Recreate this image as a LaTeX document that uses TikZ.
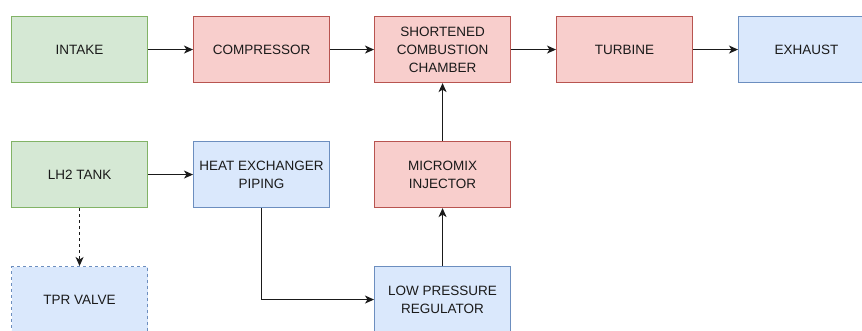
\documentclass[tikz,border=0pt]{standalone}
\usepackage{fontspec}
\setmainfont{Liberation Sans}
\usetikzlibrary{arrows.meta}
\definecolor{gfill}{HTML}{D5E8D4}
\definecolor{gline}{HTML}{82B366}
\definecolor{rfill}{HTML}{F8CECC}
\definecolor{rline}{HTML}{B85450}
\definecolor{bfill}{HTML}{DAE8FC}
\definecolor{bline}{HTML}{6C8EBF}
\definecolor{ink}{HTML}{1A1A1A}
\begin{document}
\begin{tikzpicture}[x=1pt,y=-1pt,
  block/.style={rectangle, anchor=north west, minimum width=136pt, minimum height=66pt,
    inner sep=0pt, align=center, line width=1.1pt, text=ink,
    font=\fontsize{13.5}{18}\selectfont},
  greenbox/.style={block, fill=gfill, draw=gline},
  redbox/.style={block, fill=rfill, draw=rline},
  bluebox/.style={block, fill=bfill, draw=bline},
  link/.style={draw=ink, line width=1.1pt, -{Stealth[length=9pt,width=8pt,inset=2.5pt]}}]
\clip (0,0) rectangle (862,331);
\useasboundingbox (0,0) rectangle (862,331);
% top row: main flow path
\node[greenbox] (intake) at (11,16) {INTAKE};
\node[redbox] (comp) at (193,16) {COMPRESSOR};
\node[redbox] (comb) at (374,16) {SHORTENED\\COMBUSTION\\CHAMBER};
\node[redbox] (turb) at (556,16) {TURBINE};
\node[bluebox] (exh) at (738,16) {EXHAUST};
% middle row: hydrogen supply
\node[greenbox] (tank) at (11,141) {LH2 TANK};
\node[bluebox] (hex) at (193,141) {HEAT EXCHANGER\\PIPING};
\node[redbox] (inj) at (374,141) {MICROMIX\\INJECTOR};
% bottom row
\node[bluebox, dashed, dash pattern=on 3pt off 3pt] (tpr) at (11,266) {TPR VALVE};
\node[bluebox] (lpr) at (374,266) {LOW PRESSURE\\REGULATOR};
% connectors
\draw[link] (intake) -- (comp);
\draw[link] (comp) -- (comb);
\draw[link] (comb) -- (turb);
\draw[link] (turb) -- (exh);
\draw[link] (tank) -- (hex);
\draw[link] (hex.south) |- (lpr.west);
\draw[link] (lpr) -- (inj);
\draw[link] (inj) -- (comb);
\draw[link, dashed, dash pattern=on 3pt off 3pt] (tank) -- (tpr);
\end{tikzpicture}
\end{document}
